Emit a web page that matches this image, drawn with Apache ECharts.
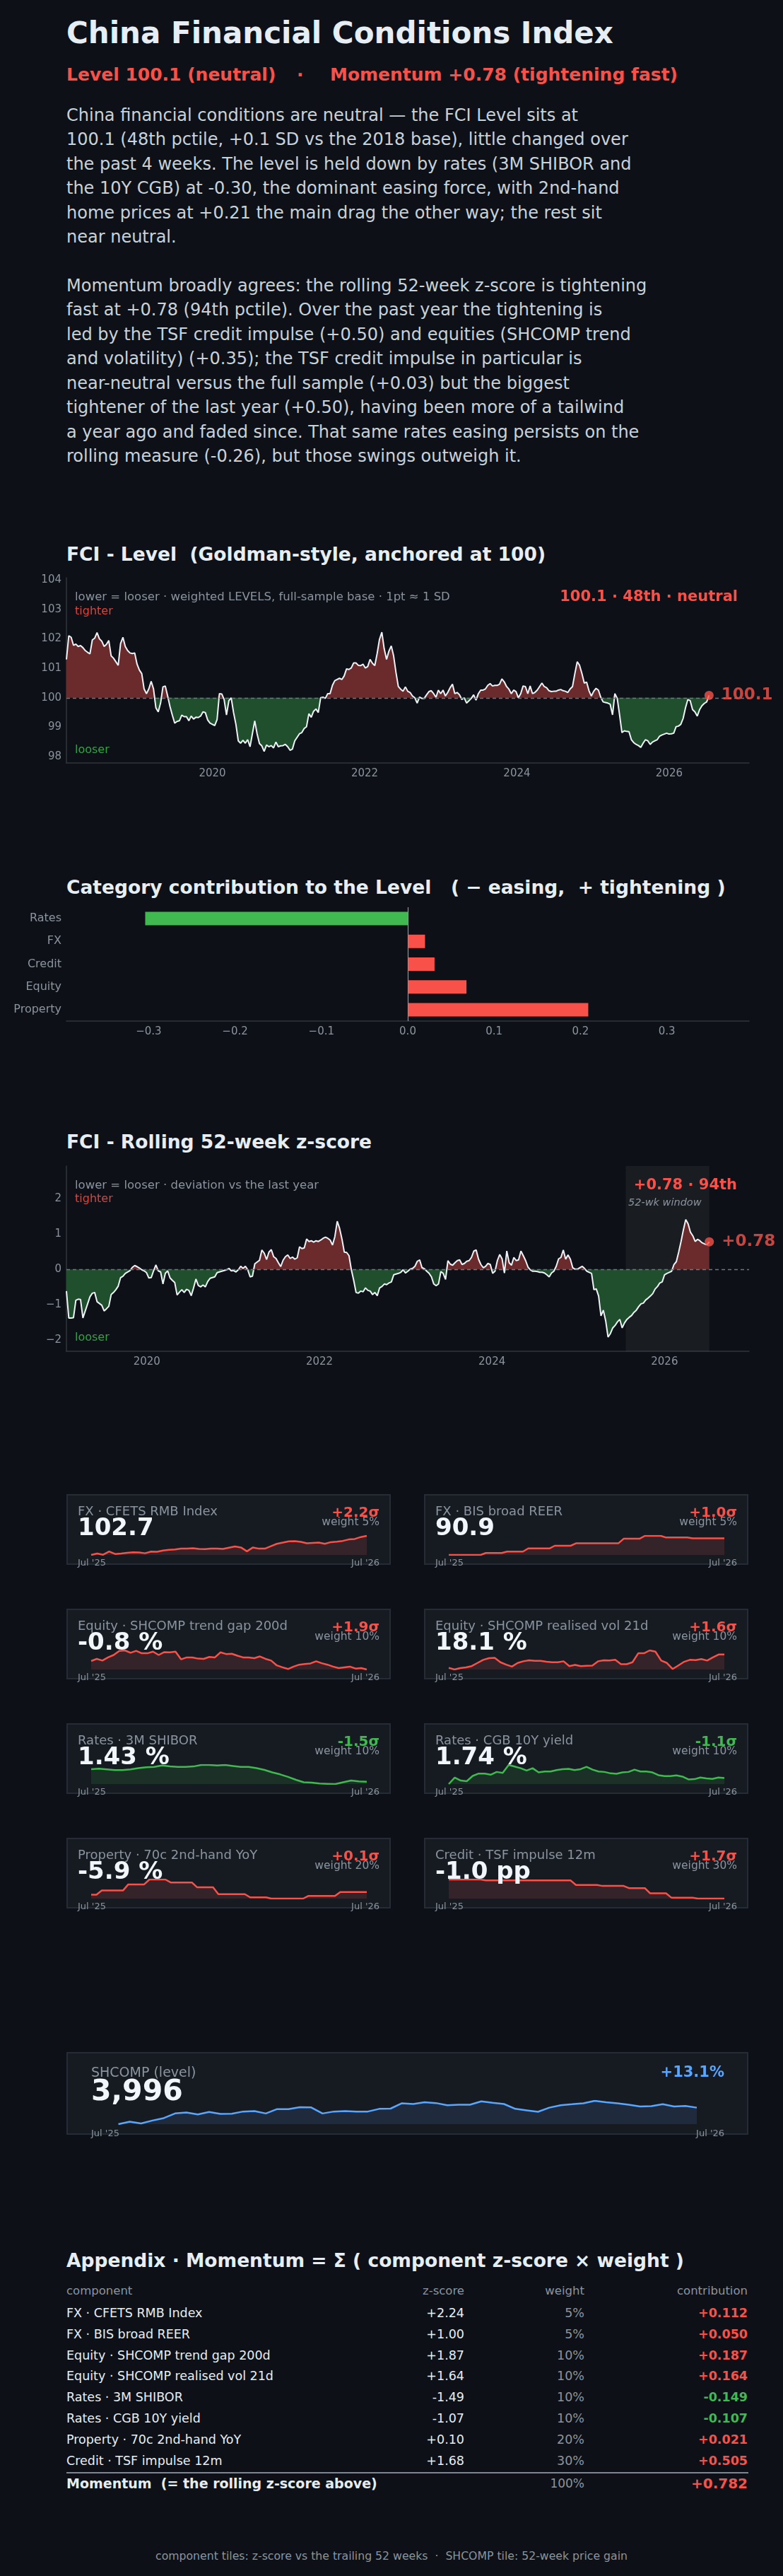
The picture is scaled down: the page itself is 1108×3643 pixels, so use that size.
<!DOCTYPE html>
<html>
<head>
<meta charset="utf-8">
<script src="https://cdn.jsdelivr.net/npm/echarts@6/dist/echarts.min.js"></script>
<style>
  body { margin: 0; background: #0d1117; font-family: 'DejaVu Sans', sans-serif; }
  #page { position: relative; width: 1108px; height: 3643px; overflow: hidden; }
  .t { position: absolute; white-space: pre; }
  .h2 { font-size: 26.5px; line-height: 26.5px; font-weight: bold; color: #e6edf3; left: 94px; }
  .tile { position: absolute; box-sizing: border-box; background: #161b22; border: 2px solid #262c35; }
  .chart { position: absolute; }
</style>
</head>
<body>
<div id="page">
  <div class="t" style="left:94px;top:25.5px;font-size:42px;line-height:42px;font-weight:bold;color:#e6edf3">China Financial Conditions Index</div>
  <div class="t" style="left:94px;top:92.5px;font-size:25px;line-height:25px;font-weight:bold;color:#f85149">Level 100.1 (neutral)</div>
  <div class="t" style="left:420px;top:92.5px;font-size:25px;line-height:25px;font-weight:bold;color:#f85149">·</div>
  <div class="t" style="left:467px;top:92.5px;font-size:25px;line-height:25px;font-weight:bold;color:#f85149">Momentum +0.78 (tightening fast)</div>
  <div class="t" style="left:94px;top:145.8px;font-size:24px;line-height:34.45px;color:#c9d1d9">China financial conditions are neutral — the FCI Level sits at
100.1 (48th pctile, +0.1 SD vs the 2018 base), little changed over
the past 4 weeks. The level is held down by rates (3M SHIBOR and
the 10Y CGB) at -0.30, the dominant easing force, with 2nd-hand
home prices at +0.21 the main drag the other way; the rest sit
near neutral.

Momentum broadly agrees: the rolling 52-week z-score is tightening
fast at +0.78 (94th pctile). Over the past year the tightening is
led by the TSF credit impulse (+0.50) and equities (SHCOMP trend
and volatility) (+0.35); the TSF credit impulse in particular is
near-neutral versus the full sample (+0.03) but the biggest
tightener of the last year (+0.50), having been more of a tailwind
a year ago and faded since. That same rates easing persists on the
rolling measure (-0.26), but those swings outweigh it.</div>

  <div class="t h2" style="top:770.75px">FCI - Level  (Goldman-style, anchored at 100)</div>
  <div id="level" class="chart" style="left:0;top:800px;width:1108px;height:320px"></div>

  <div class="t h2" style="top:1241.75px">Category contribution to the Level   ( − easing,  + tightening )</div>
  <div id="cat" class="chart" style="left:0;top:1270px;width:1108px;height:210px"></div>

  <div class="t h2" style="top:1601.75px">FCI - Rolling 52-week z-score</div>
  <div id="zchart" class="chart" style="left:0;top:1632px;width:1108px;height:310px"></div>

  <div id="tiles"></div>

  <div class="tile" style="left:94px;top:2902px;width:965px;height:117px"></div>
  <div id="shcomp" class="chart" style="left:94px;top:2902px;width:965px;height:117px"></div>
  <div class="t" style="left:129px;top:2920.5px;font-size:19px;line-height:19px;color:#8b949e">SHCOMP (level)</div>
  <div class="t" style="left:129px;top:2936px;font-size:41px;line-height:41px;font-weight:bold;color:#f0f6fc">3,996</div>
  <div class="t" style="right:83px;top:2919.5px;font-size:21px;line-height:21px;font-weight:bold;color:#58a6ff">+13.1%</div>
  <div class="t" style="left:129px;top:3009.5px;font-size:13px;line-height:13px;color:#8b949e">Jul '25</div>
  <div class="t" style="right:83px;top:3009.5px;font-size:13px;line-height:13px;color:#8b949e">Jul '26</div>

  <div class="t h2" style="top:3183.75px">Appendix · Momentum = Σ ( component z-score × weight )</div>
  <div id="table"></div>

  <div class="t" style="left:0;width:1108px;text-align:center;top:3607px;font-size:15.7px;line-height:15.7px;color:#8b949e">component tiles: z-score vs the trailing 52 weeks  ·  SHCOMP tile: 52-week price gain</div>
</div>

<script type="text/javascript">
// ---- FCI level, weekly-ish samples (Feb 2018 -> Jul 2026)
var levelStart = 2018.083, levelEnd = 2026.524;
var levelValues = [
  101.30, 102.10, 102.05, 101.78, 101.82, 101.74, 101.77, 101.70, 101.60, 101.54,
  101.49, 101.96, 102.02, 102.21, 102.00, 101.92, 101.74, 101.81, 101.94, 101.42,
  101.34, 101.22, 101.10, 101.84, 102.05, 101.74, 101.60, 101.52, 101.50, 101.52,
  101.14, 100.94, 100.82, 100.30, 100.14, 100.30, 100.56, 100.30, 99.66, 99.52,
  99.82, 100.37, 100.40, 100.06, 99.70, 99.41, 99.14, 99.20, 99.22, 99.41,
  99.36, 99.36, 99.22, 99.38, 99.28, 99.34, 99.33, 99.38, 99.52, 99.50,
  99.25, 99.14, 99.10, 99.06, 99.26, 100.14, 100.13, 99.94, 99.42, 99.90,
  100.00, 99.50, 99.10, 98.54, 98.46, 98.56, 98.46, 98.58, 98.34, 98.78,
  99.22, 98.78, 98.45, 98.37, 98.18, 98.40, 98.34, 98.38, 98.30, 98.50,
  98.34, 98.37, 98.38, 98.42, 98.34, 98.22, 98.26, 98.54, 98.66, 98.78,
  98.82, 98.96, 99.02, 99.46, 99.34, 99.54, 99.62, 99.50, 100.00, 100.02,
  99.98, 100.14, 100.14, 100.42, 100.58, 100.62, 100.66, 100.62, 100.74, 100.98,
  100.96, 101.01, 101.18, 101.18, 101.10, 101.09, 101.14, 101.01, 101.06, 101.30,
  101.17, 101.09, 101.50, 101.98,
  102.22, 101.66, 101.30, 101.58, 101.76, 101.42, 100.86, 100.38, 100.29, 100.22,
  100.37, 100.22, 100.18, 100.06, 100.00, 99.82, 100.02, 99.98, 99.98, 100.10,
  100.21, 100.24, 100.14, 100.02, 100.26, 100.14, 100.26, 100.06, 100.18, 100.34,
  100.46, 100.14, 100.18, 100.10, 99.94, 100.00, 99.82, 99.90, 99.98, 100.10,
  99.92, 100.14, 100.26, 100.26, 100.30, 100.42, 100.48, 100.40, 100.42, 100.42,
  100.46, 100.64, 100.54, 100.38, 100.29, 100.14, 100.26, 100.21, 100.00, 100.14,
  100.40, 100.38, 100.14, 100.40, 100.14, 100.18, 100.26, 100.38, 100.50, 100.38,
  100.34, 100.24, 100.21, 100.22, 100.22, 100.26, 100.28, 100.24, 100.22, 100.18,
  100.30, 100.38, 100.82, 101.22, 101.10, 100.82, 100.50, 100.53, 100.24, 100.06,
  100.22, 100.32, 100.26, 100.02, 99.86, 99.84, 99.82, 99.78, 99.42, 100.14,
  99.98, 99.42, 98.82, 98.88, 98.86, 98.85, 98.58, 98.48, 98.42, 98.38,
  98.32, 98.46, 98.58, 98.54, 98.42, 98.50, 98.54, 98.58, 98.70, 98.74,
  98.77, 98.80, 98.77, 98.78, 98.80, 99.02, 99.04, 99.10, 99.30, 99.66,
  99.94, 99.90, 99.60, 99.52, 99.38, 99.60, 99.73, 99.81, 99.86, 100.08
];

// ---- rolling 52-week z-score (Jan 2019 -> Jul 2026)
var zStart = 2019.068, zEnd = 2026.519, zWindowStart = 2025.55;
var zValues = [
  -0.61, -1.37, -1.37, -1.36, -0.87, -0.84, -0.85, -1.37, -1.17, -0.97,
  -0.77, -0.67, -0.65, -0.91, -0.96, -1.01, -1.17, -1.11, -1.04, -0.71,
  -0.65, -0.57, -0.47, -0.23, -0.19, -0.11, -0.07, -0.03, 0.06, 0.11,
  0.08, 0.04, -0.01, -0.04, -0.09, -0.24, -0.23, -0.04, 0.13, -0.04,
  -0.07, -0.41, -0.11, -0.04, -0.24, -0.31, -0.37, -0.72, -0.64, -0.57,
  -0.65, -0.56, -0.59, -0.74, -0.52, -0.27, -0.45, -0.49, -0.44, -0.49,
  -0.34, -0.25, -0.23, -0.21, -0.09, -0.07, -0.05, -0.03, -0.01, 0.03,
  -0.04, -0.03, -0.07, -0.01, 0.09, 0.03, 0.09, -0.01, -0.21, -0.19,
  0.16, 0.21, 0.26, 0.55, 0.46, 0.28, 0.49, 0.56, 0.36, 0.31,
  0.19, 0.08, 0.26, 0.36, 0.41, 0.31, 0.35, 0.29, 0.33, 0.64,
  0.59, 0.61, 0.86, 0.79, 0.81, 0.77, 0.81, 0.79, 0.83, 0.88,
  0.91, 0.88, 0.83, 0.69, 0.93, 1.36, 1.16, 0.86, 0.49, 0.48,
  0.39, -0.01, -0.31, -0.65, -0.67, -0.61, -0.63, -0.52, -0.59, -0.61,
  -0.71, -0.65, -0.74, -0.52,
  -0.48, -0.41, -0.43, -0.38, -0.35, -0.15, -0.13, -0.11, -0.08, -0.01,
  -0.10, -0.05, 0.01, 0.03, 0.09, 0.23, 0.27, 0.05, 0.02, -0.05,
  -0.11, -0.21, -0.41, -0.46, -0.41, -0.06, -0.11, -0.28, 0.25, 0.15,
  0.12, 0.19, 0.25, 0.27, 0.14, 0.17, 0.23, 0.25, 0.34, 0.52,
  0.55, 0.29, 0.14, 0.05, 0.09, 0.17, 0.14, -0.11, -0.05, 0.25,
  0.42, 0.30, -0.10, 0.52, 0.19, 0.12, 0.34, 0.25, 0.27, 0.52,
  0.39, 0.25, 0.07, -0.01, -0.05, -0.05, -0.06, -0.08, -0.08, -0.10,
  -0.15, -0.21, -0.10, -0.05, 0.09, 0.30, 0.34, 0.55, 0.29, 0.41,
  0.29, 0.05, 0.01, 0.01, 0.05, 0.09, 0.03, -0.05, -0.08, -0.11,
  -0.57, -0.55, -0.75, -1.31, -1.15, -1.45, -1.91, -1.81, -1.65, -1.58,
  -1.48, -1.41, -1.65, -1.51, -1.41, -1.35, -1.30, -1.21, -1.15, -1.05,
  -0.97, -0.95, -0.86, -0.81, -0.75, -0.68, -0.55, -0.48, -0.38, -0.35,
  -0.15, -0.11, -0.08, -0.05, 0.14, 0.22, 0.49, 0.79, 1.12, 1.41,
  1.29, 1.05, 0.95, 0.79, 0.85, 0.81, 0.75, 0.72, 0.70, 0.78
];

// ---- category contribution to the level
var categories = ['Rates', 'FX', 'Credit', 'Equity', 'Property'];
var catContrib = [-0.304, 0.020, 0.031, 0.068, 0.209];

// ---- component tiles (last 52 weeks)
var cfets = [97.57, 97.96, 97.63, 98.48, 97.83, 97.96, 98.15, 98.28, 98.22, 98.02,
  98.48, 98.41, 98.74, 98.93, 99.06, 99.26, 99.26, 99.39, 99.19, 99.13,
  99.26, 99.26, 99.19, 99.52, 99.84, 99.58, 98.54, 99.58, 99.26, 99.26,
  99.91, 100.56, 100.88, 101.21, 101.27, 101.08, 100.69, 100.82, 100.88, 100.56,
  101.01, 101.14, 101.34, 101.73, 101.86, 102.38, 102.70];
var reer = [87.80, 87.80, 87.80, 87.80, 87.80, 87.80, 87.80, 88.16, 88.16, 88.16,
  88.16, 88.43, 88.43, 88.43, 88.43, 89.01, 89.01, 89.01, 89.01, 89.01,
  89.51, 89.51, 89.51, 89.51, 89.96, 89.96, 89.96, 89.96, 89.96, 89.96,
  89.96, 89.96, 89.96, 90.81, 90.81, 90.81, 90.81, 91.35, 91.35, 91.35,
  91.35, 91.04, 91.04, 91.04, 91.04, 91.04, 90.90, 90.90, 90.90, 90.90,
  90.90, 90.90, 90.90];
var trendGap = [3.40, 4.48, 3.64, 5.20, 6.40, 8.44, 8.68, 7.48, 8.44, 7.24,
  7.24, 8.08, 6.40, 7.84, 7.72, 8.08, 4.24, 5.20, 5.20, 4.60,
  4.48, 5.44, 5.20, 7.72, 6.88, 7.00, 6.04, 5.20, 5.20, 4.84,
  5.68, 4.48, 3.64, 1.24, 0.28, -0.56, 0.64, 1.60, 1.96, 2.20,
  3.28, 2.32, 1.60, 0.64, -0.08, 0.28, 0.64, -0.32, -0.08, -0.80];
var vol21d = [9.85, 8.80, 9.70, 10.15, 10.90, 12.85, 14.80, 15.85, 16.00, 13.30,
  11.80, 10.60, 12.85, 13.90, 14.50, 14.20, 14.20, 13.60, 13.30, 13.30,
  13.90, 10.90, 11.65, 10.90, 11.05, 11.20, 13.90, 14.50, 14.35, 14.80,
  12.10, 12.10, 13.30, 18.85, 18.85, 20.65, 19.90, 14.35, 12.85, 9.10,
  11.35, 13.60, 14.80, 14.65, 15.25, 14.35, 16.30, 18.10, 18.10];
var shibor = [1.583, 1.589, 1.580, 1.571, 1.571, 1.580, 1.595, 1.607, 1.610, 1.628,
  1.616, 1.610, 1.610, 1.616, 1.634, 1.634, 1.628, 1.634, 1.622, 1.610,
  1.610, 1.595, 1.574, 1.544, 1.520, 1.490, 1.454, 1.424, 1.421, 1.409,
  1.406, 1.403, 1.424, 1.445, 1.436, 1.430];
var cgb10y = [1.662, 1.746, 1.707, 1.698, 1.767, 1.797, 1.797, 1.782, 1.818, 1.806,
  1.908, 1.887, 1.866, 1.836, 1.866, 1.812, 1.824, 1.824, 1.842, 1.854,
  1.857, 1.842, 1.854, 1.884, 1.848, 1.824, 1.818, 1.800, 1.794, 1.812,
  1.818, 1.848, 1.824, 1.824, 1.812, 1.776, 1.764, 1.764, 1.773, 1.758,
  1.722, 1.725, 1.746, 1.734, 1.728, 1.746, 1.740];
var property = [-6.23, -6.23, -5.72, -5.72, -5.72, -5.72, -5.72, -4.97, -4.97, -4.97,
  -4.97, -4.37, -4.37, -4.37, -4.37, -4.73, -4.73, -4.73, -4.73, -4.73,
  -5.33, -5.33, -5.33, -5.33, -6.17, -6.17, -6.17, -6.17, -6.17, -6.17,
  -6.56, -6.56, -6.56, -6.56, -6.71, -6.71, -6.71, -6.71, -6.71, -6.71,
  -6.71, -6.38, -6.38, -6.38, -6.38, -6.38, -6.38, -5.90, -5.90, -5.90,
  -5.90, -5.90, -5.90];
var tsf = [0.60, 0.60, 0.60, 0.60, 0.60, 0.60, 0.60, 0.52, 0.52, 0.52,
  0.52, 0.52, 0.52, 0.52, 0.52, 0.52, 0.52, 0.52, 0.52, 0.52,
  0.52, 0.52, 0.52, 0.52, 0.14, 0.14, 0.14, 0.14, 0.14, 0.06,
  0.06, 0.06, 0.06, 0.06, -0.12, -0.12, -0.12, -0.12, -0.56, -0.56,
  -0.56, -0.56, -0.92, -0.92, -0.92, -0.92, -0.92, -1.00, -1.00, -1.00,
  -1.00, -1.00, -1.00];
var shcomp = [3533, 3601, 3553, 3635, 3703, 3833, 3860, 3805, 3874, 3819,
  3826, 3887, 3901, 3833, 3955, 3955, 4010, 4003, 3833, 3887,
  3901, 3887, 3887, 3962, 3969, 4119, 4098, 4146, 4125, 4064,
  4078, 4078, 4173, 4132, 4098, 3962, 3921, 3880, 3996, 4064,
  4091, 4119, 4187, 4146, 4119, 4078, 4030, 4037, 4091, 4030,
  4044, 3996];

var tileNames = ['FX · CFETS RMB Index', 'FX · BIS broad REER', 'Equity · SHCOMP trend gap 200d',
  'Equity · SHCOMP realised vol 21d', 'Rates · 3M SHIBOR', 'Rates · CGB 10Y yield',
  'Property · 70c 2nd-hand YoY', 'Credit · TSF impulse 12m'];
var tileLatest = ['102.7', '90.9', '-0.8 %', '18.1 %', '1.43 %', '1.74 %', '-5.9 %', '-1.0 pp'];
var tileSeries = [cfets, reer, trendGap, vol21d, shibor, cgb10y, property, tsf];

// ---- appendix table
var zScores = [2.24, 1.00, 1.87, 1.64, -1.49, -1.07, 0.10, 1.68];
var weights = [5, 5, 10, 10, 10, 10, 20, 30];
var contribs = [0.112, 0.050, 0.187, 0.164, -0.149, -0.107, 0.021, 0.505];
var momentumTotal = 0.782;

var RED = '#f85149', GREEN = '#3fb950', GREY = '#8b949e', AXIS = '#30363d', FONT = 'DejaVu Sans';

function sign(v, d) { return (v >= 0 ? '+' : '') + v.toFixed(d); }
function yearFmt(v) {
  var r = Math.round(v);
  return (Math.abs(v - r) < 1e-6 && r % 2 === 0) ? String(r) : '';
}
function intFmt(v) {
  var r = Math.round(v);
  return Math.abs(v - r) < 1e-6 ? String(r).replace('-', '\u2212') : '';
}
function txt(x, y, text, size, color, weight, align) {
  return { type: 'text', x: x, y: y, z: 100, silent: true,
    style: { text: text, fill: color, font: (weight || 'normal') + ' ' + size + 'px "DejaVu Sans"',
      align: align || 'left', verticalAlign: 'middle' } };
}

// shared builder for the two red/green band charts
function bandChart(el, xs, ys, base, opt) {
  var chart = echarts.init(document.getElementById(el));
  var up = xs.map(function (x, i) { return [x, Math.max(ys[i], base)]; });
  var dn = xs.map(function (x, i) { return [x, Math.min(ys[i], base)]; });
  var line = xs.map(function (x, i) { return [x, ys[i]]; });
  var last = line[line.length - 1];
  var series = [
    { type: 'line', data: up, symbol: 'none', z: 1, lineStyle: { width: 0 },
      areaStyle: { color: '#6b2b2d', opacity: 1, origin: base } },
    { type: 'line', data: dn, symbol: 'none', z: 1, lineStyle: { width: 0 },
      areaStyle: { color: '#1f4f2c', opacity: 1, origin: base } },
    { type: 'line', data: line, symbol: 'none', z: 4, lineStyle: { color: '#eef2f6', width: 2 },
      markLine: { silent: true, symbol: 'none', label: { show: false },
        lineStyle: { color: '#6e7681', type: [5, 4], width: 1.3 }, data: [{ yAxis: base }] } },
    { type: 'scatter', data: [last], symbolSize: 13, z: 6, itemStyle: { color: RED },
      label: { show: true, position: 'right', distance: 11, formatter: opt.endLabel,
        color: RED, fontSize: 23, fontWeight: 'bold', fontFamily: FONT } }
  ];
  if (opt.window) {
    series.push({ type: 'line', data: [], z: 3, symbol: 'none',
      markArea: { silent: true, itemStyle: { color: 'rgba(255,255,255,0.05)' },
        data: [[{ xAxis: opt.window[0] }, { xAxis: opt.window[1] }]] } });
  }
  chart.setOption({
    animation: false,
    textStyle: { fontFamily: FONT },
    grid: { left: 94, right: 48, top: 17, height: 262 },
    xAxis: { type: 'value', min: xs[0], max: opt.xMax, splitNumber: 8,
      axisLine: { onZero: false, lineStyle: { color: AXIS, width: 1.5 } },
      axisTick: { show: false }, splitLine: { show: false },
      axisLabel: { color: GREY, fontSize: 15, margin: 8, formatter: yearFmt } },
    yAxis: { type: 'value', min: opt.yMin, max: opt.yMax, splitNumber: 6,
      axisLine: { show: true, onZero: false, lineStyle: { color: AXIS, width: 1.5 } },
      axisTick: { show: false }, splitLine: { show: false },
      axisLabel: { color: GREY, fontSize: 15, margin: 7, formatter: intFmt } },
    graphic: opt.texts,
    series: series
  });
}

var levelX = levelValues.map(function (v, i) {
  return levelStart + i * (levelEnd - levelStart) / (levelValues.length - 1);
});
bandChart('level', levelX, levelValues, 100, {
  xMax: 2027.05, yMin: 97.79, yMax: 104.07, endLabel: '100.1',
  texts: [
    txt(106, 45, 'lower = looser · weighted LEVELS, full-sample base · 1pt ≈ 1 SD', 16.5, GREY),
    txt(106, 65, 'tighter', 16, '#d9443c'),
    txt(106, 261, 'looser', 16, '#35a047'),
    txt(1044, 45, '100.1 · 48th · neutral', 21, RED, 'bold', 'right')
  ]
});

var zX = zValues.map(function (v, i) {
  return zStart + i * (zEnd - zStart) / (zValues.length - 1);
});
bandChart('zchart', zX, zValues, 0, {
  xMax: 2026.98, yMin: -2.31, yMax: 2.92, endLabel: '+0.78', window: [zWindowStart, zEnd],
  texts: [
    txt(106, 45, 'lower = looser · deviation vs the last year', 16.5, GREY),
    txt(106, 64, 'tighter', 16, '#d9443c'),
    txt(106, 260, 'looser', 16, '#35a047'),
    txt(1043, 45, '+0.78 · 94th', 21, RED, 'bold', 'right'),
    txt(889, 69, '52-wk window', 14.5, GREY, 'italic')
  ]
});

// category bars
var lim = Math.max.apply(null, catContrib.map(Math.abs)) * 1.3;
echarts.init(document.getElementById('cat')).setOption({
  animation: false,
  textStyle: { fontFamily: FONT },
  grid: { left: 94, right: 48, top: 13, height: 161 },
  xAxis: { type: 'value', min: -lim, max: lim, splitNumber: 8,
    axisLine: { show: true, onZero: false, lineStyle: { color: AXIS, width: 1.5 } },
    axisTick: { show: false }, splitLine: { show: false },
    axisLabel: { color: GREY, fontSize: 15, margin: 8, formatter: function (v) {
      return Math.abs(v) > 0.35 ? '' : v.toFixed(1).replace('-', '\u2212');
    } } },
  yAxis: { type: 'category', inverse: true, data: categories,
    axisLine: { show: false }, axisTick: { show: false },
    axisLabel: { color: GREY, fontSize: 16, margin: 7 } },
  series: [{ type: 'bar', barWidth: 19,
    data: catContrib.map(function (v) { return { value: v, itemStyle: { color: v < 0 ? GREEN : RED } }; }),
    markLine: { silent: true, symbol: 'none', label: { show: false },
      lineStyle: { color: GREY, type: 'solid', width: 1.2 }, data: [{ xAxis: 0 }] } }]
});

function spark(el, data, color, fill, grid) {
  echarts.init(el).setOption({
    animation: false,
    grid: grid,
    xAxis: { type: 'category', show: false, boundaryGap: false, data: data.map(function (d, i) { return i; }) },
    yAxis: { type: 'value', show: false, min: 'dataMin', max: 'dataMax' },
    series: [{ type: 'line', data: data, symbol: 'none', lineStyle: { color: color, width: 2.5 },
      areaStyle: { color: fill, opacity: 1, origin: 'start' } }]
  });
}

// component tiles
var holder = document.getElementById('tiles');
function addText(left, top, text, css) {
  var d = document.createElement('div');
  d.className = 't';
  d.textContent = text;
  d.style.cssText = 'top:' + top + 'px;' + (left >= 0 ? 'left:' + left + 'px;' : 'right:' + (-left) + 'px;') + css;
  holder.appendChild(d);
}
tileNames.forEach(function (name, i) {
  var left = 94 + (i % 2) * 506, top = 2113 + Math.floor(i / 2) * 162;
  var up = zScores[i] >= 0;
  var bg = document.createElement('div');
  bg.className = 'tile';
  bg.style.cssText = 'left:' + left + 'px;top:' + top + 'px;width:459px;height:100px';
  holder.appendChild(bg);
  var c = document.createElement('div');
  c.className = 'chart';
  c.style.cssText = 'left:' + left + 'px;top:' + top + 'px;width:459px;height:100px';
  holder.appendChild(c);
  spark(c, tileSeries[i], up ? RED : GREEN, up ? '#35232a' : '#1b3026',
    { left: 35, right: 34, top: 59, bottom: 14 });
  var rightEdge = -(1108 - (left + 443));
  addText(left + 16, top + 14.5, name, 'font-size:18px;line-height:18px;color:' + GREY);
  addText(left + 16, top + 29, tileLatest[i], 'font-size:34px;line-height:34px;font-weight:bold;color:#f0f6fc');
  addText(rightEdge, top + 14.5, sign(zScores[i], 1) + 'σ', 'font-size:20px;line-height:20px;font-weight:bold;color:' + (up ? RED : GREEN));
  addText(rightEdge, top + 32, 'weight ' + weights[i] + '%', 'font-size:15.5px;line-height:15.5px;color:' + GREY);
  addText(left + 16, top + 89.5, "Jul '25", 'font-size:13px;line-height:13px;color:' + GREY);
  addText(rightEdge, top + 89.5, "Jul '26", 'font-size:13px;line-height:13px;color:' + GREY);
});

spark(document.getElementById('shcomp'), shcomp, '#58a6ff', '#1f2b3d',
  { left: 73.5, right: 73, top: 69, bottom: 15 });

// appendix table
holder = document.getElementById('table');
var zR = -(1108 - 657), wR = -(1108 - 827), cR = -(1108 - 1058);
addText(94, 3231.75, 'component', 'font-size:16.5px;line-height:16.5px;color:' + GREY);
addText(zR, 3231.75, 'z-score', 'font-size:16.5px;line-height:16.5px;color:' + GREY);
addText(wR, 3231.75, 'weight', 'font-size:16.5px;line-height:16.5px;color:' + GREY);
addText(cR, 3231.75, 'contribution', 'font-size:16.5px;line-height:16.5px;color:' + GREY);
tileNames.forEach(function (name, i) {
  var top = 3262.9 + i * 29.85;
  var base = 'font-size:17.5px;line-height:17.5px;';
  addText(94, top, name, base + 'color:#e6edf3');
  addText(zR, top, sign(zScores[i], 2), base + 'color:#e6edf3');
  addText(wR, top, weights[i] + '%', base + 'color:' + GREY);
  addText(cR, top, sign(contribs[i], 3), base + 'font-weight:bold;color:' + (contribs[i] < 0 ? GREEN : RED));
});
var sep = document.createElement('div');
sep.style.cssText = 'position:absolute;left:94px;top:3496px;width:965px;height:2px;background:#7d8590';
holder.appendChild(sep);
addText(94, 3502.5, 'Momentum  (= the rolling z-score above)', 'font-size:19px;line-height:19px;font-weight:bold;color:#e6edf3');
addText(wR, 3503.5, weights.reduce(function (a, b) { return a + b; }, 0) + '%', 'font-size:17px;line-height:17px;color:' + GREY);
addText(cR, 3502, sign(momentumTotal, 3), 'font-size:20px;line-height:20px;font-weight:bold;color:' + RED);
</script>
</body>
</html>
